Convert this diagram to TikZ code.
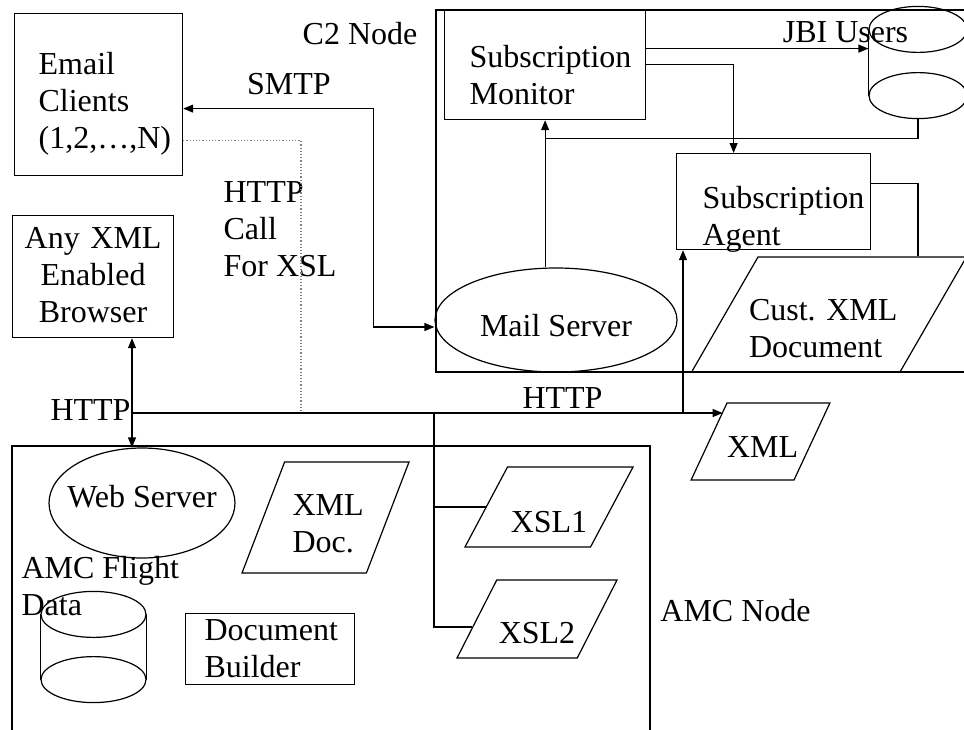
\documentclass[tikz,border=0pt]{standalone}
\usepackage{fontspec}
\setmainfont{Liberation Serif}
\usetikzlibrary{shapes.geometric,arrows.meta,positioning}
\hyphenpenalty=10000
\setlength{\parindent}{0pt}
\hfuzz=60pt
\hbadness=10000

% database drum: #1 node name, #2 x radius
\newcommand{\dbdraw}[2]{%
  \draw ([yshift=-11.5pt]#1.north) ellipse [x radius=#2, y radius=11.5pt];
  \draw ([yshift=11.5pt]#1.south) ellipse [x radius=#2, y radius=11.5pt];
  \draw ([yshift=-11.5pt]#1.north west) -- ([yshift=11.5pt]#1.south west)
        ([yshift=-11.5pt]#1.north east) -- ([yshift=11.5pt]#1.south east);
}

\begin{document}
\begin{tikzpicture}[x=0.5pt,y=-0.5pt,line width=0.6pt,
  >={Triangle[length=5pt,width=4pt]},
  every node/.style={font=\fontsize{16}{18.5}\selectfont},
  box node/.style={rectangle,draw,anchor=north west,inner ysep=0pt,align=left},
  server node/.style={ellipse,draw,inner sep=0pt},
  data node/.style={trapezium,draw,inner sep=0pt,align=center},
  db node/.style={rectangle,inner sep=0pt}]

  \useasboundingbox (0,0) rectangle (964,729);
  \clip (0,0) rectangle (964,729);

  % the two sites
  \draw (436,10) rectangle (990,372);
  \draw (12,446) rectangle (650,760);

  \node[box node,inner xsep=12pt,text width=60pt,text height=30.5pt,text depth=50.5pt] (email) at (14,13) {Email\\Clients\\(1,2,\ldots,N)};
  \node[box node,align=center,inner xsep=2pt,text width=76.5pt,text height=16.5pt,text depth=44.5pt] (browser) at (12,215) {Any XML\\Enabled\\Browser};
  \node[box node,inner xsep=12.5pt,text width=75.5pt,text height=29pt,text depth=26pt] (sm) at (444,9) {Subscription\\Monitor};
  \node[box node,inner xsep=13pt,text width=71pt,text height=27.5pt,text depth=20.5pt] (sa) at (676,153) {Subscription\\Agent};
  \node[box node,inner xsep=9.5pt,text width=65.5pt,text height=13.5pt,text depth=22pt] (builder) at (185,613) {Document\\Builder};

  \node[server node,minimum width=121pt,minimum height=52pt,text height=16.5pt,text depth=0pt] (mail) at (556,320) {Mail Server};
  \node[server node,minimum width=93pt,minimum height=55pt,inner xsep=-5pt,text height=8pt,text depth=3.4pt] (web) at (142,503) {Web Server};

  \node[data node,trapezium left angle=69,trapezium right angle=111,align=left,inner xsep=4pt,text width=32.9pt,text height=26.5pt,text depth=29pt] (xmldoc) at (325.5,517.5) {XML\\Doc.};
  \node[data node,trapezium left angle=62,trapezium right angle=118,text width=41.5pt,text height=32.5pt,text depth=7.5pt] (xsl1) at (549,507) {XSL1};
  \node[data node,trapezium left angle=63,trapezium right angle=117,text width=40.25pt,text height=31.5pt,text depth=7.5pt] (xsl2) at (537,619) {XSL2};
  \node[data node,trapezium left angle=65,trapezium right angle=115,text width=33.5pt,text height=27pt,text depth=11.5pt] (xml) at (760.5,441.5) {XML};
  \node[data node,trapezium left angle=60,trapezium right angle=120,align=left,inner xsep=-4.5pt,text width=80pt,text height=31.5pt,text depth=26pt] (cust) at (829,314.5) {\mbox{Cust.\ XML}\\Document};

  \node[db node,minimum width=52.5pt,minimum height=55pt] (amcdb) at (93.5,647) {};
  \node[db node,minimum width=49pt,minimum height=55.5pt] (jbi) at (918,62.5) {};
  \dbdraw{amcdb}{26.25pt}
  \dbdraw{jbi}{24.5pt}

  \node (c2lbl) at (360,34) {C2 Node};
  \node (smtp) at (289,84.5) {SMTP};
  \node[anchor=north west,inner sep=0pt,align=left] (xslcall) at (223,181) {HTTP\\Call\\For XSL};
  \node (jbilbl) at (845.5,32.5) {JBI Users};
  \node[anchor=north west,inner sep=0pt,align=left] (amclbl) at (21,556) {AMC Flight\\Data};
  \node (amcnode) at (735.5,611) {AMC Node};
  \node (http1) at (90.5,410) {HTTP};
  \node (http2) at (562.5,398) {HTTP};

  \coordinate (busw) at (132,413);
  \coordinate (xslbus) at (434,413);
  \coordinate (callend) at (301,413);
  \coordinate (saup) at ([xshift=3.5pt]sa.south west);

  % mail and xsl calls
  \draw[<->] ([yshift=-7pt]email.east) -- ++(95pt,0) |- ([yshift=-3.5pt]mail.west);
  \draw[densely dotted,gray] ([yshift=-23pt]email.east) -| (callend);

  % http bus
  \draw[<->] (browser.south -| busw) -- (web.north -| busw);
  \draw[->] (busw) -- ([xshift=-2pt]busw -| xml.top left corner);
  \draw[->] (busw -| saup) -- (saup);
  \draw (xslbus) |- (xsl2.187) (xslbus |- xsl1.west) -- (xsl1.west);

  % inside C2
  \draw[->] (mail.north -| sm.south) -- (sm.south);
  \draw (jbi.south) |- ([yshift=-9pt]sm.south);
  \draw[->] ([yshift=8pt]sm.east) -- ([yshift=8pt]sm.east -| jbi.west);
  \draw[->] (sm.east) -| ([xshift=-20pt]sa.north);
  \draw ([yshift=9pt]sa.east) -| (jbi.south |- cust.north);

\end{tikzpicture}
\end{document}
